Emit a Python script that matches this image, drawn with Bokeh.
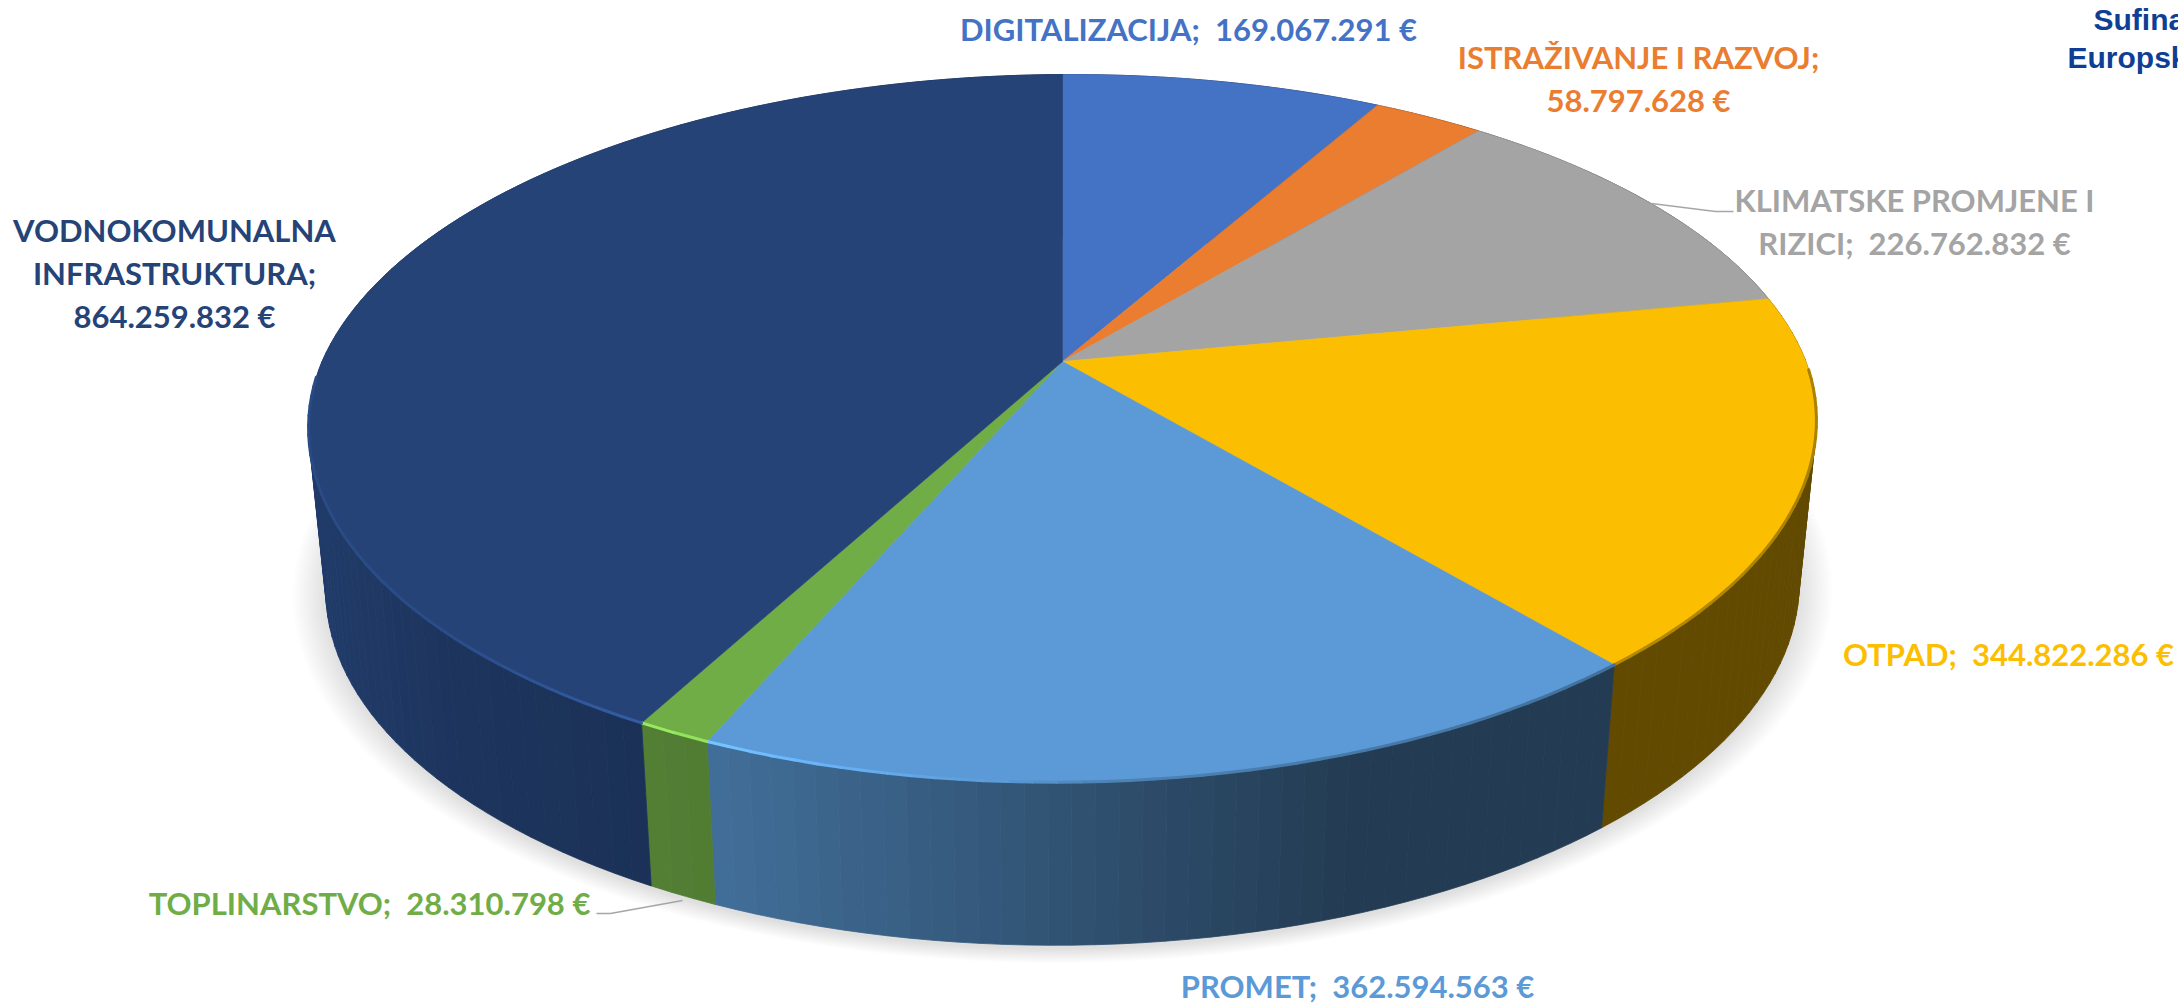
import numpy as np
from bokeh.plotting import figure
from bokeh.models import ColumnDataSource, Range1d
from bokeh.core.properties import value
from bokeh.embed import file_html
from bokeh.resources import INLINE

categories = ["DIGITALIZACIJA", "ISTRAŽIVANJE I RAZVOJ", "KLIMATSKE PROMJENE I RIZICI", "OTPAD",
              "PROMET", "TOPLINARSTVO", "VODNOKOMUNALNA INFRASTRUKTURA"]
amounts = [169067291, 58797628, 226762832, 344822286, 362594563, 28310798, 864259832]
colors = ["#4472C4", "#EA7D30", "#A4A4A4", "#FBBE00", "#5B9AD6", "#70AD47", "#254377"]

NB = "\u00a0"
# label lines: (slice index, text, centre x, centre y) on the picture
label_lines = [
    (0, f"DIGITALIZACIJA;{NB}{NB}169.067.291{NB}€", 1188, 28),
    (1, "ISTRAŽIVANJE I RAZVOJ;", 1638, 56),
    (1, f"58.797.628{NB}€", 1638, 99),
    (2, "KLIMATSKE PROMJENE I", 1914, 199),
    (2, f"RIZICI;{NB}{NB}226.762.832{NB}€", 1914, 242),
    (3, f"OTPAD;{NB}{NB}344.822.286{NB}€", 2008, 653),
    (4, f"PROMET;{NB}{NB}362.594.563{NB}€", 1357, 985),
    (5, f"TOPLINARSTVO;{NB}{NB}28.310.798{NB}€", 369, 902),
    (6, "VODNOKOMUNALNA", 174, 229),
    (6, "INFRASTRUKTURA;", 174, 272),
    (6, f"864.259.832{NB}€", 174, 315),
]

# perspective of the disc on the picture
CX, CY = 1062, 361
RX, RY, PERSP = 742, 273, 0.189
FRONT_X, SKEW_Y = 0.012, -0.005


def top(theta, r=1.0):
    t = np.radians(np.asarray(theta, float))
    u, v = r * np.sin(t), r * np.cos(t)
    w = 1 + PERSP * v
    x = RX * u / w * (1 - FRONT_X * np.maximum(0, -v))
    y = (CY - RY * v) / w
    return CX + x, y + SKEW_Y * x


def base(theta):
    x, y = top(theta)
    return CX + (x - CX) * 0.977, y + 163


def rgb(c):
    return np.array([int(c[i:i + 2], 16) for i in (1, 3, 5)], float)


def tohex(a):
    a = np.clip(np.round(a), 0, 255).astype(int)
    return "#%02x%02x%02x" % tuple(a)


total = sum(amounts)
edges = np.concatenate([[0], np.cumsum(amounts) / total * 360])

p = figure(width=2178, height=1004, x_range=Range1d(0, 2178), y_range=Range1d(1004, 0),
           output_backend="svg", toolbar_location=None, min_border=0, outline_line_color=None,
           background_fill_color="white", border_fill_color="white")
p.axis.visible = False
p.grid.visible = False

# soft shadow below the disc
sh_t = np.arange(0, 360, 2.0)
sx, sy = base(sh_t)
cy0 = 530
xs, ys = [], []
for s in np.linspace(1.045, 1.0, 16):
    xs.append((CX + (sx - CX) * s).tolist())
    ys.append((cy0 + (sy - cy0) * (1 + (s - 1) * 0.75) + 4).tolist())
p.patches(xs, ys, fill_color="black", fill_alpha=0.0085, line_color=None)

# side wall, shaded along x
wall_x = [320, 450, 700, 1350, 1900]
wall_f = [0.88, 0.78, 0.72, 0.39, 0.39]
qx, qy, qc = [], [], []
for i in range(len(amounts)):
    a0, a1 = edges[i], edges[i + 1]
    n = max(2, int((a1 - a0) / 1.5))
    th = np.linspace(a0, a1, n + 1)
    tx, ty = top(th)
    bx, by = base(th)
    for k in range(n):
        mid = (tx[k] + tx[k + 1]) / 2
        col = tohex(rgb(colors[i]) * np.interp(mid, wall_x, wall_f))
        qx.append([tx[k], tx[k + 1], bx[k + 1], bx[k]])
        qy.append([ty[k], ty[k + 1], by[k + 1], by[k]])
        qc.append(col)
p.patches(qx, qy, fill_color=qc, line_color=qc, line_width=0.8)

# top surface
wx, wy = [], []
for i in range(len(amounts)):
    th = np.linspace(edges[i], edges[i + 1], max(3, int((edges[i + 1] - edges[i]) / 1.0)))
    rx, ry = top(th)
    wx.append([CX] + rx.tolist())
    wy.append([CY] + ry.tolist())
p.patches(wx, wy, fill_color=colors, line_color=colors, line_width=0.6)

# lit / softened front rim
rim_x = [306, 450, 640, 760, 1000, 1100, 1816]
rim_f = [1.12, 1.15, 1.38, 1.22, 1.0, 0.85, 0.68]
mx, my, mc = [], [], []
for i in range(len(amounts)):
    a0, a1 = max(edges[i], 92), min(edges[i + 1], 268)
    if a1 <= a0:
        continue
    th = np.linspace(a0, a1, max(3, int((a1 - a0) / 1.5)))
    rx, ry = top(th)
    for k in range(len(th) - 1):
        f = np.interp((rx[k] + rx[k + 1]) / 2, rim_x, rim_f)
        mx.append([rx[k], rx[k + 1]])
        my.append([ry[k], ry[k + 1]])
        mc.append(tohex(rgb(colors[i]) * f))
p.multi_line(mx, my, line_color=mc, line_width=3, line_cap="round")

# leader lines
p.line([1651, 1715, 1733], [203, 211, 211], line_color="#A6A6A6", line_width=1.5)
p.line([596, 610, 682], [913, 913, 900], line_color="#A6A6A6", line_width=1.5)

# labels
src = ColumnDataSource(dict(
    x=[l[2] for l in label_lines], y=[l[3] for l in label_lines],
    t=[l[1] for l in label_lines], c=[colors[l[0]] for l in label_lines]))
p.text("x", "y", text="t", source=src, text_color="c", text_align="center", text_baseline="middle",
       text_font=value("Lato"), text_font_style="bold", text_font_size="31px")

# cut-off note at the top right
p.text([2093, 2067], [19, 57], text=["Sufina", "Europsk"], text_color="#0E3F94",
       text_align="left", text_baseline="middle", text_font=value("Liberation Sans"),
       text_font_style="bold", text_font_size="30px")

open("out.html", "w").write(file_html(p, INLINE))
